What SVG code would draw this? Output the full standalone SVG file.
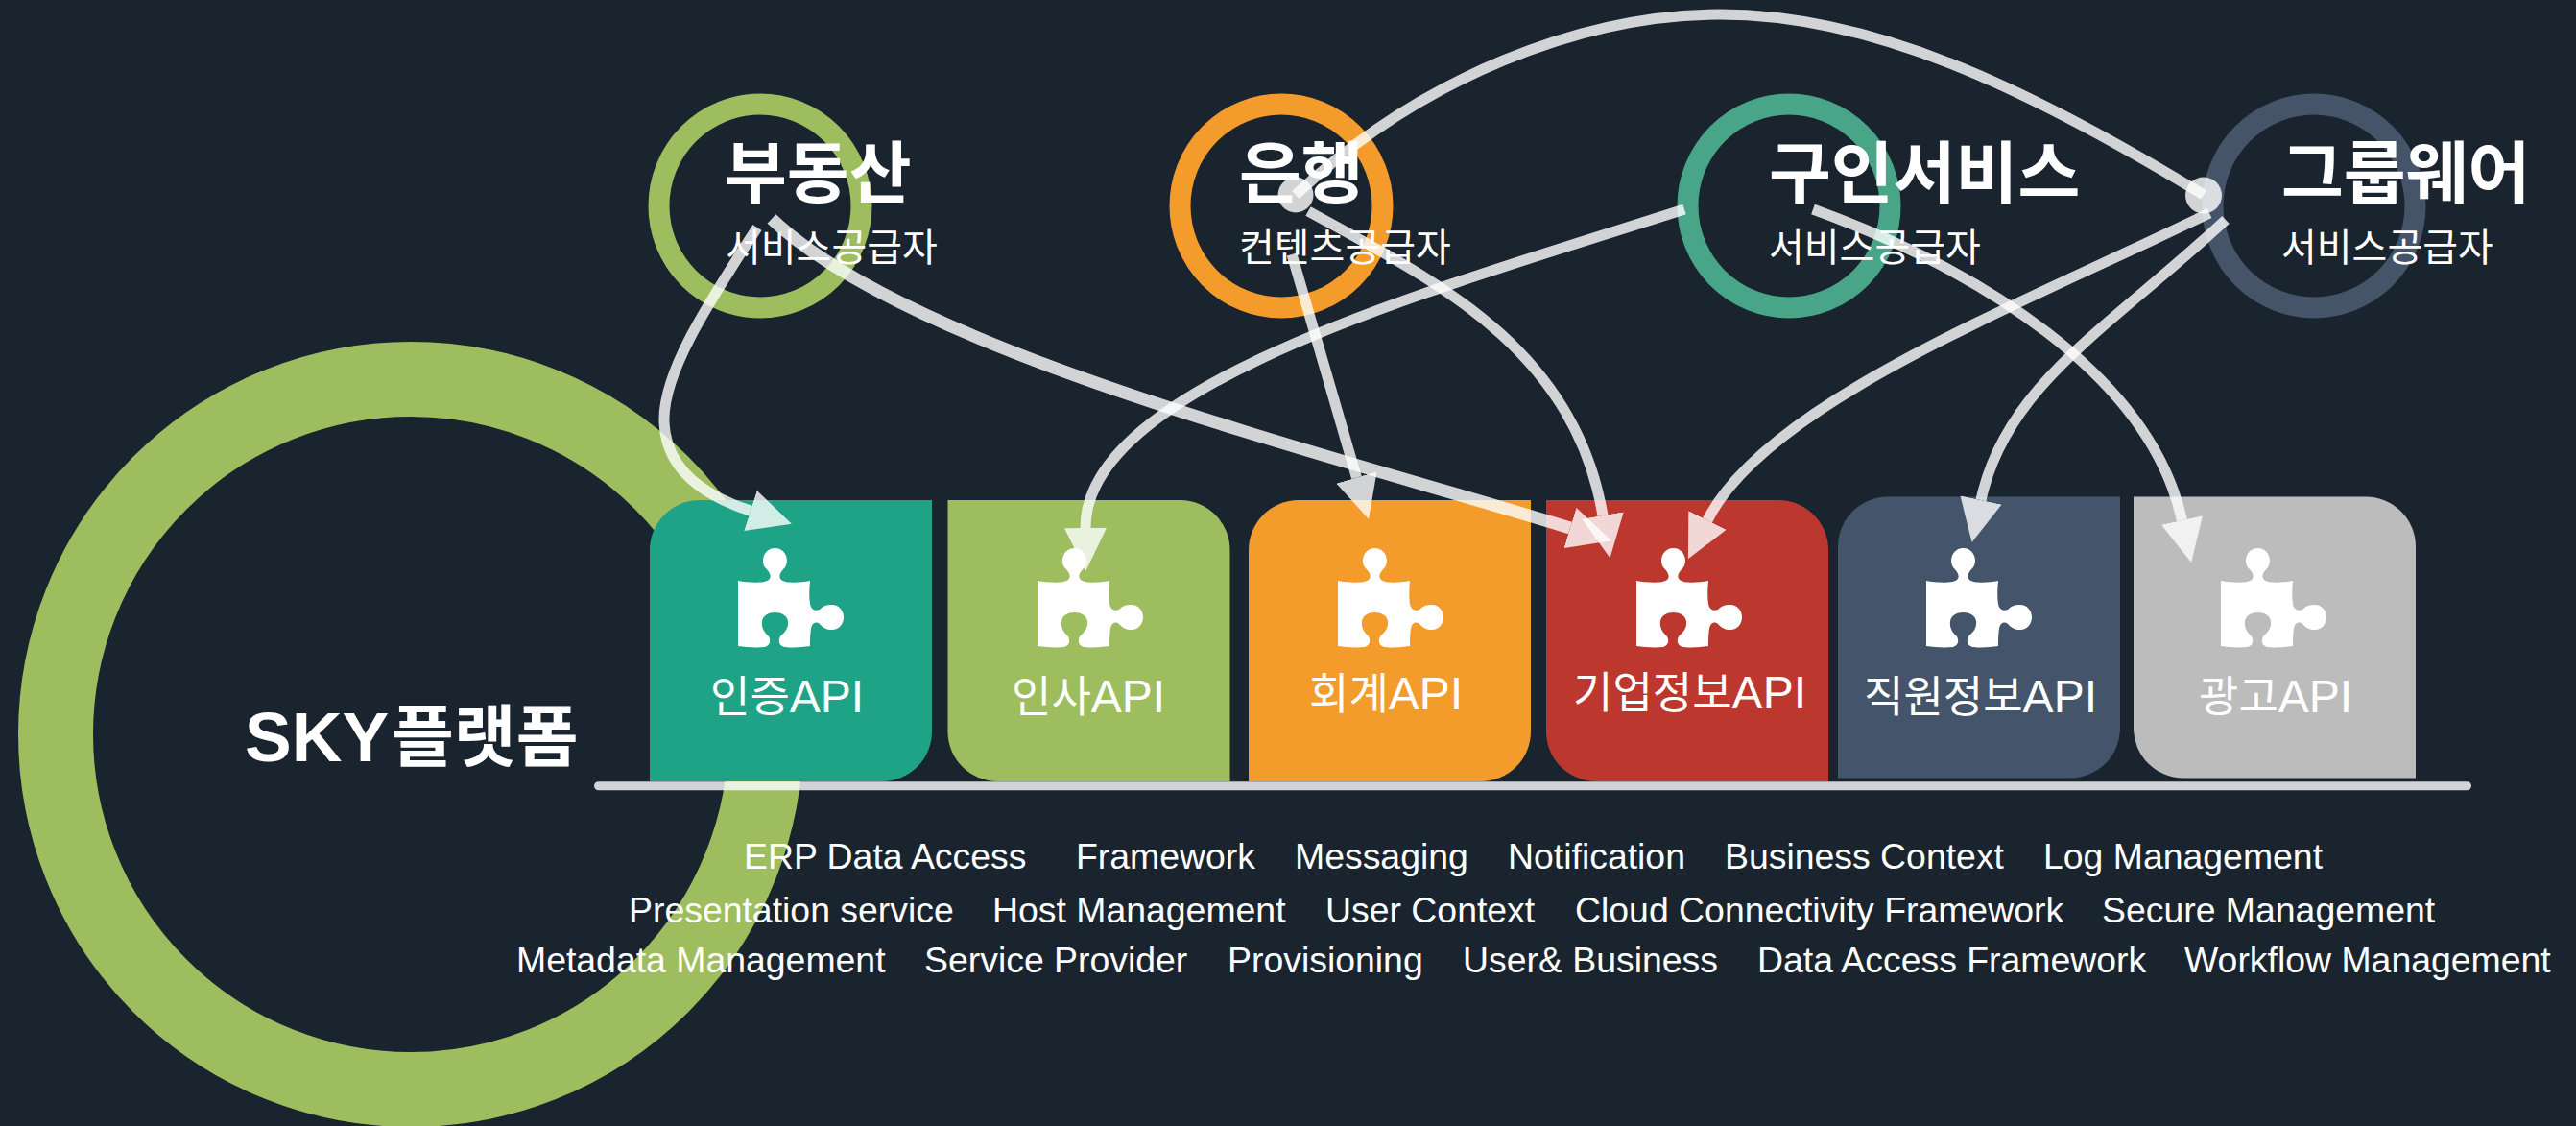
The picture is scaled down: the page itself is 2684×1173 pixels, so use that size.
<svg xmlns="http://www.w3.org/2000/svg" xmlns:xlink="http://www.w3.org/1999/xlink" width="2684" height="1173" viewBox="0 0 2684 1173">
<style>
text{fill:#fff;font-family:"Liberation Sans","Noto Sans CJK KR",sans-serif}
.title{font-size:70.5px;font-weight:700}
.sub{font-size:40px}
.api{font-size:45px}
.lat{font-size:48px}
.tag{font-size:37.4px}
.ring{fill:none;stroke-width:22}
.conn{fill:none;stroke:#fff;stroke-width:11;opacity:.8;marker-end:url(#head)}
.dot{fill:#fff;opacity:.8}
</style>
<defs>
<marker id="head" markerUnits="userSpaceOnUse" markerWidth="46" markerHeight="44" refX="0" refY="22" orient="auto" viewBox="0 0 46 44"><path d="M0,0L45,22L0,44Z" fill="#fff"/></marker>
<path id="cardA" d="M52,0H294V241A52,52 0 0 1 242,293H0V52A52,52 0 0 1 52,0Z"/>
<path id="cardB" d="M0,0H242A52,52 0 0 1 294,52V293H52A52,52 0 0 1 0,241Z"/>
<path id="puzzle" fill="#fff" d="M0,34C10,36 27,37 32,33C36,29 32,24 28,20C23,12 28,0 38.5,0C49,0 54,12 49,20C45,24 41,29 45,33C50,37 65,36 75,34C74,44 74,52 75,58C76,64 80,66 85,64C89,60 92,59 98,59C105,59 110,65 110,72C110,79 105,85 98,85C92,85 89,83 85,79C81,76 77,78 76,84C75,90 75,98 75,102C68,103 55,104 48,103C42,101 42,96 44,92C48,88 53,84 52,76C51,70 45,67 38.5,67C32,67 26,70 25,76C24,84 28,88 32,92C34,96 34,101 28,103C18,104 8,103 0,102Z"/>
</defs>
<rect width="2684" height="1173" fill="#1a242f"/>
<g id="sky-platform">
<circle cx="428" cy="765" r="370" fill="none" stroke="#9dbd5f" stroke-width="78"/>
<text x="255" y="792.5" style="font-size:73px;font-weight:700">SKY<tspan x="408" style="font-size:70.5px">플랫폼</tspan></text>
</g>
<g id="provider-realestate">
<ellipse class="ring" cx="792" cy="214.5" rx="105.5" ry="106" stroke="#9dbd5f"/>
<text class="title" x="755" y="206">부동산</text>
<text class="sub" x="756" y="272">서비스공급자</text>
</g>
<g id="provider-bank">
<ellipse class="ring" cx="1335" cy="214.5" rx="105.5" ry="106" stroke="#f39c2c"/>
<text class="title" x="1291" y="206">은행</text>
<text class="sub" x="1291" y="272">컨텐츠공급자</text>
</g>
<g id="provider-jobs">
<ellipse class="ring" cx="1864" cy="214.5" rx="105.5" ry="106" stroke="#48a587"/>
<text class="title" x="1843" y="206">구인서비스</text>
<text class="sub" x="1843" y="272">서비스공급자</text>
</g>
<g id="provider-groupware">
<ellipse class="ring" cx="2411" cy="214.5" rx="105.5" ry="106" stroke="#455468"/>
<text class="title" x="2377" y="206">그룹웨어</text>
<text class="sub" x="2377" y="272">서비스공급자</text>
</g>
<g id="api-auth">
<use href="#cardA" x="677" y="521" fill="#1fa386"/>
<use href="#puzzle" x="769" y="571"/>
<text class="api" x="740" y="741.5">인증<tspan class="lat">API</tspan></text>
</g>
<g id="api-hr">
<use href="#cardB" x="987.5" y="521" fill="#9dbd5f"/>
<use href="#puzzle" x="1081" y="571"/>
<text class="api" x="1054" y="741.5">인사<tspan class="lat">API</tspan></text>
</g>
<g id="api-accounting">
<use href="#cardA" x="1301" y="521" fill="#f39c2c"/>
<use href="#puzzle" x="1394" y="571"/>
<text class="api" x="1364" y="739">회계<tspan class="lat">API</tspan></text>
</g>
<g id="api-company">
<use href="#cardB" x="1611" y="521" fill="#bc382e"/>
<use href="#puzzle" x="1705" y="571"/>
<text class="api" x="1639" y="738">기업정보<tspan class="lat">API</tspan></text>
</g>
<g id="api-employee">
<use href="#cardA" x="1915" y="517.5" fill="#44556b"/>
<use href="#puzzle" x="2007" y="571"/>
<text class="api" x="1942" y="741.5">직원정보<tspan class="lat">API</tspan></text>
</g>
<g id="api-ads">
<use href="#cardB" x="2223" y="517.5" fill="#bcbcbc"/>
<use href="#puzzle" x="2314" y="571"/>
<text class="api" x="2291" y="741.5">광고<tspan class="lat">API</tspan></text>
</g>
<g id="tags">
<text class="tag" x="775" y="905">ERP Data Access</text>
<text class="tag" x="1121" y="905">Framework</text>
<text class="tag" x="1349" y="905">Messaging</text>
<text class="tag" x="1571" y="905">Notification</text>
<text class="tag" x="1797" y="905">Business Context</text>
<text class="tag" x="2129" y="905">Log Management</text>
<text class="tag" x="655" y="960.5">Presentation service</text>
<text class="tag" x="1034" y="960.5">Host Management</text>
<text class="tag" x="1381" y="960.5">User Context</text>
<text class="tag" x="1641" y="960.5">Cloud Connectivity Framework</text>
<text class="tag" x="2190" y="960.5">Secure Management</text>
<text class="tag" x="538" y="1013">Metadata Management</text>
<text class="tag" x="963" y="1013">Service Provider</text>
<text class="tag" x="1279" y="1013">Provisioning</text>
<text class="tag" x="1524" y="1013">User&amp; Business</text>
<text class="tag" x="1831" y="1013">Data Access Framework</text>
<text class="tag" x="2276" y="1013">Workflow Management</text>
</g>
<g id="connectors">
<path d="M623.5,818.8H2570.5" fill="none" stroke="#fff" stroke-width="9" stroke-linecap="round" opacity=".8"/>
<path class="conn" d="M789,237C735,320 690,390 692,440C694,490 735,517 782,532"/>
<path class="conn" style="stroke-width:13" d="M804,228C950,367 1386,473 1636,550"/>
<path class="conn" d="M1346,265L1413.5,497.5"/>
<path class="conn" d="M1363,220C1490,290 1640,360 1670,537"/>
<path class="conn" d="M1755,218C1500,300 1130,400 1131,550"/>
<path class="conn" d="M1889,218C2060,280 2240,390 2273.5,542"/>
<path class="conn" d="M2302,222C2100,320 1840,420 1779,542"/>
<path class="conn" d="M2319,229C2200,340 2090,400 2064,521"/>
<path fill="none" stroke="#fff" stroke-width="11" opacity=".8" d="M1350,203C1480,80 1650,15 1792,15C1950,15 2110,90 2296,203"/>
<circle class="dot" cx="1350" cy="203" r="18.5"/>
<circle class="dot" cx="2296" cy="203.5" r="19"/>
</g>
</svg>
